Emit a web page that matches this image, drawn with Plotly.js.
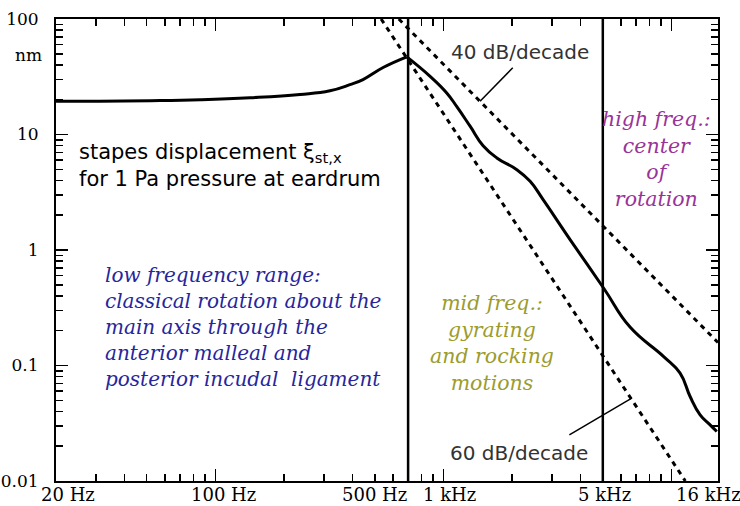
<!DOCTYPE html>
<html>
<head>
<meta charset="utf-8">
<script src="https://cdn.plot.ly/plotly-3.0.1.min.js"></script>
<style>html,body{margin:0;padding:0;background:#fff}#chart{width:740px;height:506px}</style>
</head>
<body>
<div id="chart"></div>
<script>
// ---- data ----
const freqHz = [20, 31, 52, 86, 142, 235, 318, 389, 444, 544, 691, 874, 1034, 1143, 1309, 1493, 1715, 2099, 2400, 2737, 3593, 5063, 6582, 9217, 10910, 12070, 13355, 14770, 15805];
const dispNm = [19.4, 19.4, 19.6, 20.0, 20.8, 22.2, 23.9, 27.0, 29.9, 38.0, 47.0, 31.9, 22.9, 17.5, 11.8, 8.0, 6.27, 4.96, 3.93, 2.73, 1.23, 0.462, 0.215, 0.120, 0.0859, 0.0539, 0.0374, 0.0306, 0.0268];
const slope40Hz = [637, 16000];
const slope40Nm = [100, 0.158];
const slope60Hz = [533, 11500];
const slope60Nm = [100, 0.01];
const boundaryHz = [700, 5000];
const boundaryNm = [0.01, 100];
const pointer40Hz = [1448, 2014];
const pointer40Nm = [19.4, 37.8];
const pointer60Hz = [6700, 3567];
const pointer60Nm = [0.0522, 0.0251];
const xTickHz = [20, 100, 500, 1000, 5000, 16000];
const xTickText = ['20 Hz', '100 Hz', '500 Hz', '1 kHz', '5 kHz', '16 kHz'];
const yTickVals = [0.01, 0.1, 1, 10, 100];
const yTickText = ['0.01', '0.1', '1', '10', '100'];
const yUnit = 'nm';
const textStapes = 'stapes displacement ξ<sub>st,x</sub><br>for 1 Pa pressure at eardrum';
const textLow = ['low frequency range:', 'classical rotation about the', 'main axis through the', 'anterior malleal and', 'posterior incudal  ligament'];
const textMid = ['mid freq.:', 'gyrating', 'and rocking', 'motions'];
const textHigh = ['high freq.:', 'center', 'of', 'rotation'];
const text40 = '40 dB/decade';
const text60 = '60 dB/decade';

// ---- layout helpers ----
const W = 740, H = 506;
const M = {l: 56, r: 22, t: 19, b: 25};
const px = x => (x - M.l) / (W - M.l - M.r);
const py = y => 1 - (y - M.t) / (H - M.t - M.b);
const italic = lines => lines.map(s => '<i>' + s + '</i>').join('<br>');

function minorVals(lo, hi) {
  const v = [];
  for (let d = lo; d < hi; d++) for (let k = 2; k <= 9; k++) v.push(k * Math.pow(10, d));
  return v;
}

const vx = [], vy = [];
boundaryHz.forEach(f => { vx.push(f, f, null); vy.push(boundaryNm[0], boundaryNm[1], null); });

// split the curve at its peak so the cusp stays sharp while each side is smooth
const peak = dispNm.indexOf(Math.max(...dispNm));
const curveLine = {color: '#000', width: 3, shape: 'spline', smoothing: 1.3};
const skip = {hoverinfo: 'skip', mode: 'lines'};

const traces = [
  Object.assign({x: vx, y: vy, line: {color: '#000', width: 2.5}}, skip),
  Object.assign({x: slope40Hz, y: slope40Nm, line: {color: '#000', width: 3, dash: '5px,5px'}}, skip),
  Object.assign({x: slope60Hz, y: slope60Nm, line: {color: '#000', width: 3, dash: '5px,5px'}}, skip),
  Object.assign({x: pointer40Hz, y: pointer40Nm, line: {color: '#000', width: 1.5}}, skip),
  Object.assign({x: pointer60Hz, y: pointer60Nm, line: {color: '#000', width: 1.5}}, skip),
  Object.assign({x: freqHz.slice(0, peak + 1), y: dispNm.slice(0, peak + 1), line: curveLine}, skip),
  Object.assign({x: freqHz.slice(peak), y: dispNm.slice(peak), line: curveLine}, skip)
];

const serif = 'DejaVu Serif, Liberation Serif, serif';
const sans = 'DejaVu Sans, Liberation Sans, sans-serif';
const xShift = [12, 8, 0, 6, 2, -10];

const annotations = [];
xTickHz.forEach((f, i) => annotations.push({
  xref: 'x', yref: 'paper', x: Math.log10(f), y: py(494), xshift: xShift[i],
  text: xTickText[i], showarrow: false, xanchor: 'center', yanchor: 'middle',
  font: {family: serif, size: 18, color: '#000'}
}));
annotations.push({xref: 'paper', yref: 'paper', x: px(44), y: py(55), text: yUnit, showarrow: false,
  xanchor: 'right', yanchor: 'middle', font: {family: serif, size: 17, color: '#000'}});
annotations.push({xref: 'paper', yref: 'paper', x: px(77), y: py(165), text: textStapes, showarrow: false,
  xanchor: 'left', yanchor: 'middle', align: 'left', font: {family: sans, size: 21, color: '#000'}});
annotations.push({xref: 'paper', yref: 'paper', x: px(103), y: py(327), text: italic(textLow), showarrow: false,
  xanchor: 'left', yanchor: 'middle', align: 'left', font: {family: serif, size: 20, color: '#26269c'}});
annotations.push({xref: 'paper', yref: 'paper', x: px(492), y: py(343), text: italic(textMid), showarrow: false,
  xanchor: 'center', yanchor: 'middle', align: 'center', font: {family: serif, size: 20.5, color: '#9c9c2c'}});
annotations.push({xref: 'paper', yref: 'paper', x: px(656), y: py(158.5), text: italic(textHigh), showarrow: false,
  xanchor: 'center', yanchor: 'middle', align: 'center', font: {family: serif, size: 20.5, color: '#993399'}});
annotations.push({xref: 'paper', yref: 'paper', x: px(520), y: py(52), text: text40, showarrow: false,
  xanchor: 'center', yanchor: 'middle', font: {family: sans, size: 20, color: '#333'}});
annotations.push({xref: 'paper', yref: 'paper', x: px(519), y: py(453), text: text60, showarrow: false,
  xanchor: 'center', yanchor: 'middle', font: {family: sans, size: 20, color: '#333'}});

const layout = {
  width: W, height: H, margin: M, showlegend: false,
  paper_bgcolor: '#fff', plot_bgcolor: '#fff',
  xaxis: {
    type: 'log', range: [Math.log10(20), Math.log10(16000)],
    showgrid: false, zeroline: false, showline: true, linecolor: '#000', linewidth: 2, mirror: 'ticks',
    tickmode: 'array', tickvals: [100, 1000, 10000], showticklabels: false,
    ticks: 'inside', ticklen: 12, tickwidth: 1.5, tickcolor: '#000',
    minor: {ticks: 'inside', ticklen: 7, tickwidth: 1.5, tickcolor: '#000', tickmode: 'array', tickvals: minorVals(1, 5), showgrid: false}
  },
  yaxis: {
    type: 'log', range: [-2, 2],
    showgrid: false, zeroline: false, showline: true, linecolor: '#000', linewidth: 2, mirror: 'ticks',
    tickmode: 'array', tickvals: yTickVals, ticktext: yTickText, ticklabelstandoff: 12,
    tickfont: {family: serif, size: 17, color: '#000'},
    ticks: 'inside', ticklen: 12, tickwidth: 1.5, tickcolor: '#000',
    minor: {ticks: 'inside', ticklen: 7, tickwidth: 1.5, tickcolor: '#000', tickmode: 'array', tickvals: minorVals(-2, 2), showgrid: false}
  },
  annotations: annotations
};

Plotly.newPlot('chart', traces, layout, {staticPlot: true, displayModeBar: false});
</script>
</body>
</html>
